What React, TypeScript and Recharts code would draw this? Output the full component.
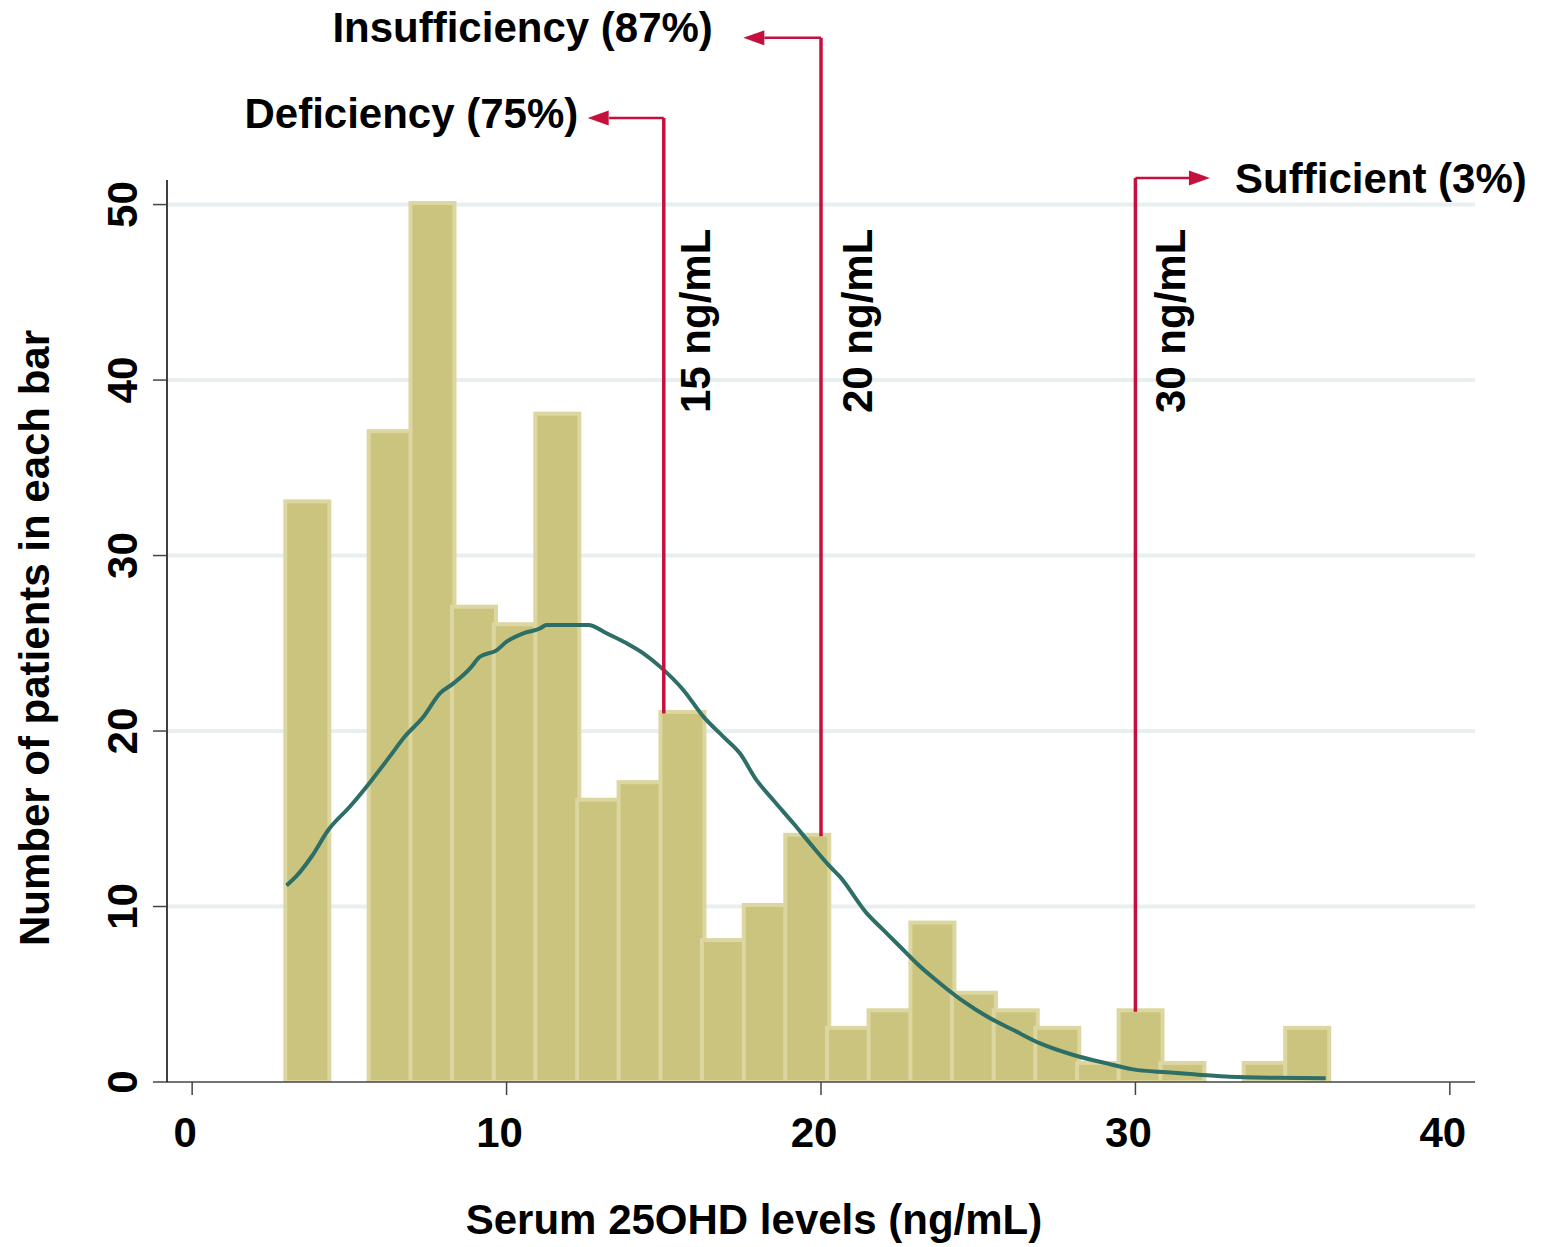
import React from 'react';
import {
  ComposedChart,
  Bar,
  Line,
  XAxis,
  YAxis,
  CartesianGrid,
  ReferenceLine,
  ReferenceDot,
} from 'recharts';

// ---- histogram bins (bin centre in ng/mL, number of patients) ----
const binCenters = [
  3.56, 4.89, 6.21, 7.54, 8.86, 10.19, 11.51, 12.84, 14.16, 15.49, 16.81, 18.14, 19.46,
  20.79, 22.11, 23.44, 24.76, 26.09, 27.41, 28.74, 30.06, 31.39, 32.71, 34.04, 35.36,
];
const binCounts = [
  33, 0, 37, 50, 27, 26, 38, 16, 17, 21, 8, 10, 14, 3, 4, 9, 5, 4, 3, 1, 4, 1, 0, 1, 3,
];

// ---- fitted normal curve ----
const curveX = [
  3.0, 3.3, 3.8, 4.33, 5.02, 5.71, 6.24, 6.77, 7.35, 7.88, 8.3, 8.84, 9.15, 9.68, 10.0,
  10.53, 11.06, 11.27, 12.0, 12.6, 13.18, 13.82, 14.35, 14.88, 15.62, 16.26, 16.89, 17.42,
  17.95, 18.48, 19.12, 19.65, 20.29, 20.6, 21.45, 21.98, 22.51, 23.04, 23.78, 24.53, 25.38,
  26.12, 26.97, 28.03, 29.09, 29.93, 31.0, 32.0, 33.0, 34.5, 36.05,
];
const curveY = [
  11.2, 11.7, 12.85, 14.36, 15.7, 17.2, 18.44, 19.7, 20.8, 22.15, 22.7, 23.57, 24.23, 24.6,
  25.09, 25.57, 25.84, 26.04, 26.04, 26.04, 25.57, 25.0, 24.43, 23.67, 22.34, 20.82, 19.68,
  18.73, 17.2, 16.07, 14.74, 13.6, 12.27, 11.7, 9.62, 8.67, 7.72, 6.77, 5.63, 4.59, 3.63,
  2.96, 2.2, 1.54, 1.06, 0.72, 0.55, 0.42, 0.3, 0.24, 0.22,
];

// ---- axis ticks ----
const xTicks = [0, 10, 20, 30, 40];
const yTicks = [0, 10, 20, 30, 40, 50];
const gridValues = [10, 20, 30, 40, 50];
const xDomain = [-0.8, 40.8];
const yDomain = [0, 51.4];

// ---- cut-off annotations ----
const cutoffs = [15, 20, 30];
const cutoffBarHeights = [21, 14, 4];
const cutoffLineTops = [54.94, 59.5, 51.52];
const cutoffArrowTips = [12.58, 17.53, 32.37];
const cutoffArrowBases = [13.26, 18.2, 31.76];
const cutoffLabels = ['15 ng/mL', '20 ng/mL', '30 ng/mL'];
const cutoffLabelX = [16.47, 21.62, 31.58];
const cutoffLabelY = 38.12;
const categoryLabels = ['Deficiency (75%)', 'Insufficiency (87%)', 'Sufficient (3%)'];
const categoryLabelX = [12.28, 16.56, 33.17];
const categoryLabelY = [54.34, 59.29, 50.68];
const categoryAnchors = ['end', 'end', 'start'];

const xTitle = 'Serum 25OHD levels (ng/mL)';
const yTitle = 'Number of patients in each bar';

const binData = binCenters.map((x, i) => ({ x, count: binCounts[i] }));
const curveData = curveX.map((x, i) => ({ cx: x, density: curveY[i] }));

const FONT = '"Liberation Sans", Arial, Helvetica, sans-serif';
const RED = '#c50f3c';
const BAR_FILL = '#cbc47e';
const BAR_STROKE = '#dcd6a0';
const CURVE = '#2d6e66';
const GRID = '#e8eff1';

const XTick = (props: any) => {
  const { x, y, payload } = props;
  return (
    <text
      x={x - 7}
      y={y + 50}
      textAnchor="middle"
      fontSize={42}
      fontWeight="bold"
      fontFamily={FONT}
      fill="#000"
    >
      {payload.value}
    </text>
  );
};

const YTick = (props: any) => {
  const { x, y, payload } = props;
  return (
    <text
      x={0}
      y={0}
      transform={`translate(${x - 14},${y}) rotate(-90)`}
      textAnchor="middle"
      fontSize={42}
      fontWeight="bold"
      fontFamily={FONT}
      fill="#000"
    >
      {payload.value}
    </text>
  );
};

const XTitle = () => (
  <text
    x={754}
    y={1234}
    textAnchor="middle"
    fontSize={42}
    fontWeight="bold"
    fontFamily={FONT}
    fill="#000"
  >
    {xTitle}
  </text>
);

const YTitle = () => (
  <text
    x={0}
    y={0}
    transform="translate(49,638) rotate(-90)"
    textAnchor="middle"
    fontSize={42}
    fontWeight="bold"
    fontFamily={FONT}
    fill="#000"
  >
    {yTitle}
  </text>
);

// Stata-style histogram bar: each bar slightly overlaps the next bin
const HistBar = (props: any) => {
  const { x, y, width, height } = props;
  if (!height || height <= 0) return <g />;
  return (
    <rect
      x={x + 2}
      y={y - 1.5}
      width={width + 3}
      height={height + 1.5}
      fill={BAR_FILL}
      stroke={BAR_STROKE}
      strokeWidth={4}
    />
  );
};

const makeArrowHead = (pointLeft: boolean) => (props: any) => {
  const { cx, cy } = props;
  const d = pointLeft ? 1 : -1;
  const pts = `${cx},${cy} ${cx + d * 21},${cy - 7.5} ${cx + d * 21},${cy + 7.5}`;
  return <polygon points={pts} fill={RED} stroke="none" />;
};

const makeText = (text: string, anchor: string, rotate: boolean) => (props: any) => {
  const { cx, cy } = props;
  return (
    <text
      x={0}
      y={0}
      transform={rotate ? `translate(${cx},${cy}) rotate(-90)` : `translate(${cx},${cy})`}
      textAnchor={anchor as any}
      fontSize={42}
      fontWeight="bold"
      fontFamily={FONT}
      fill="#000"
    >
      {text}
    </text>
  );
};

export default function App() {
  return (
    <div style={{ position: 'absolute', left: 0, top: 0, background: '#fff' }}>
      <ComposedChart
        width={1542}
        height={1247}
        data={binData}
        margin={{ top: 180, right: 67, bottom: 0, left: 0 }}
      >
        <CartesianGrid
          horizontal
          vertical={false}
          horizontalValues={gridValues}
          stroke={GRID}
          strokeWidth={4}
        />
        <XAxis
          type="number"
          dataKey="x"
          domain={xDomain}
          ticks={xTicks}
          tick={<XTick />}
          tickSize={13}
          height={165}
          axisLine={{ stroke: '#444', strokeWidth: 1.5 }}
          tickLine={{ stroke: '#444', strokeWidth: 1.5 }}
          label={<XTitle />}
          allowDataOverflow
        />
        <XAxis
          xAxisId="curve"
          type="number"
          dataKey="cx"
          domain={xDomain}
          hide
          allowDataOverflow
        />
        <YAxis
          type="number"
          domain={yDomain}
          ticks={yTicks}
          tick={<YTick />}
          tickSize={14}
          width={167}
          axisLine={{ stroke: '#000', strokeWidth: 1.5 }}
          tickLine={{ stroke: '#444', strokeWidth: 1.5 }}
          label={<YTitle />}
          allowDataOverflow
        />
        <Bar
          dataKey="count"
          fill={BAR_FILL}
          stroke={BAR_STROKE}
          strokeWidth={4}
          barSize={41}
          shape={<HistBar />}
          isAnimationActive={false}
        />
        <Line
          xAxisId="curve"
          data={curveData}
          dataKey="density"
          type="monotone"
          stroke={CURVE}
          strokeWidth={4}
          dot={false}
          activeDot={false}
          isAnimationActive={false}
        />
        {cutoffs.map((c, i) => (
          <ReferenceLine
            key={`v${i}`}
            segment={[
              { x: c, y: cutoffBarHeights[i] },
              { x: c, y: cutoffLineTops[i] },
            ]}
            stroke={RED}
            strokeWidth={3.5}
            ifOverflow="visible"
          />
        ))}
        {cutoffs.map((c, i) => (
          <ReferenceLine
            key={`h${i}`}
            segment={[
              { x: c, y: cutoffLineTops[i] },
              { x: cutoffArrowBases[i], y: cutoffLineTops[i] },
            ]}
            stroke={RED}
            strokeWidth={2.5}
            ifOverflow="visible"
          />
        ))}
        {cutoffs.map((c, i) => (
          <ReferenceDot
            key={`a${i}`}
            x={cutoffArrowTips[i]}
            y={cutoffLineTops[i]}
            r={1}
            ifOverflow="visible"
            shape={makeArrowHead(cutoffArrowTips[i] < c)}
          />
        ))}
        {cutoffLabels.map((t, i) => (
          <ReferenceDot
            key={`cl${i}`}
            x={cutoffLabelX[i]}
            y={cutoffLabelY}
            r={1}
            ifOverflow="visible"
            shape={makeText(t, 'start', true)}
          />
        ))}
        {categoryLabels.map((t, i) => (
          <ReferenceDot
            key={`gl${i}`}
            x={categoryLabelX[i]}
            y={categoryLabelY[i]}
            r={1}
            ifOverflow="visible"
            shape={makeText(t, categoryAnchors[i], false)}
          />
        ))}
      </ComposedChart>
    </div>
  );
}
